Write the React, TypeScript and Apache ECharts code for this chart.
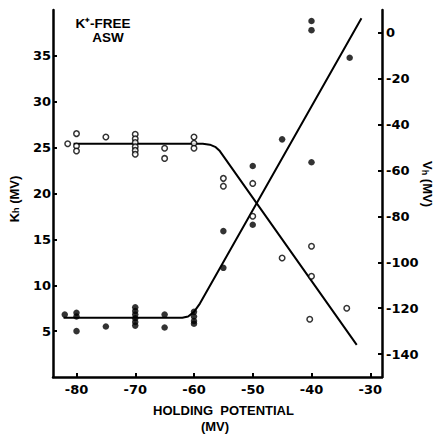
import React, { useEffect, useRef } from "react";
import * as echarts from "echarts";

// Holding potential (mV) ticks
const xTicks = [-80, -70, -60, -50, -40, -30];
const kTicks = [5, 10, 15, 20, 25, 30, 35];
const vTicks = [-140, -120, -100, -80, -60, -40, -20, 0];

// K_h (mV), filled circles, left axis: [holding potential, K_h]
const khPoints: [number, number][] = [
  [-82, 6.8], [-80, 7.0], [-80, 6.6], [-80, 5.0], [-75, 5.5],
  [-70, 7.6], [-70, 7.2], [-70, 6.8], [-70, 6.4], [-70, 6.0], [-70, 5.6],
  [-65, 6.8], [-65, 5.4],
  [-60, 7.1], [-60, 6.6], [-60, 6.1], [-60, 5.8],
  [-55, 15.9], [-55, 11.9], [-50, 23.0], [-50, 16.6], [-45, 25.9],
  [-40, 38.8], [-40, 37.8], [-40, 23.4], [-33.5, 34.8],
];

// V_h (mV), open circles, right axis: [holding potential, V_h]
const vhPoints: [number, number][] = [
  [-81.5, -48.3], [-80, -43.9], [-80, -49.3], [-80, -51.5], [-75, -45.4],
  [-70, -44.2], [-70, -46.1], [-70, -47.8], [-70, -49.6], [-70, -51.2], [-70, -52.9],
  [-65, -50.3], [-65, -54.7],
  [-60, -45.4], [-60, -48.1], [-60, -50.3],
  [-55, -63.4], [-55, -66.8], [-50, -65.6], [-50, -79.9], [-45, -98.1],
  [-40, -93], [-40, -106.1], [-40.3, -124.8], [-34, -120],
];

// fitted curves
const khFit: [number, number][] = [
  [-82.2, 6.45], [-62, 6.45], [-61, 6.6], [-60, 7.1], [-59, 8.0], [-31.5, 39.1],
];
const vhFit: [number, number][] = [
  [-80.5, -48.3], [-58.5, -48.3], [-57.3, -48.7], [-56.3, -49.8], [-55.6, -51.5], [-32.3, -136],
];

const tickFont = "DejaVu Sans";
const nameFont = "Liberation Sans";

export default function App() {
  const ref = useRef<HTMLDivElement>(null);
  useEffect(() => {
    if (!ref.current) return;
    const chart = echarts.init(ref.current, null, { renderer: "svg" });
    const axisLine = { show: true, lineStyle: { color: "#000", width: 2.5 } };
    const axisTick = (vals: number[]) => ({
      show: true,
      inside: true,
      length: 4,
      lineStyle: { color: "#000", width: 2 },
      customValues: vals,
    });
    const axisLabel = (vals: number[], margin: number) => ({
      show: true,
      customValues: vals,
      color: "#000",
      fontFamily: tickFont,
      fontWeight: "bold" as const,
      fontSize: 13,
      margin,
    });
    chart.setOption({
      animation: false,
      backgroundColor: "#fff",
      grid: { left: 53, right: 55, top: 10, bottom: 58, containLabel: false },
      xAxis: {
        type: "value",
        min: -84,
        max: -28,
        axisLine,
        axisTick: axisTick(xTicks),
        axisLabel: axisLabel(xTicks, 6),
        splitLine: { show: false },
      },
      yAxis: [
        {
          type: "value",
          position: "left",
          min: 0,
          max: 40,
          axisLine,
          axisTick: axisTick(kTicks),
          axisLabel: axisLabel(kTicks, 2),
          splitLine: { show: false },
        },
        {
          type: "value",
          position: "right",
          min: -150,
          max: 10,
          axisLine,
          axisTick: axisTick(vTicks),
          axisLabel: axisLabel(vTicks, 4),
          splitLine: { show: false },
        },
      ],
      series: [
        {
          type: "line",
          yAxisIndex: 0,
          data: khFit,
          showSymbol: false,
          symbol: "none",
          lineStyle: { color: "#000", width: 2 },
          z: 1,
        },
        {
          type: "line",
          yAxisIndex: 1,
          data: vhFit,
          showSymbol: false,
          symbol: "none",
          lineStyle: { color: "#000", width: 2 },
          z: 1,
        },
        {
          type: "scatter",
          yAxisIndex: 0,
          data: khPoints,
          symbol: "circle",
          symbolSize: 6.5,
          itemStyle: { color: "#000" },
          z: 3,
        },
        {
          type: "scatter",
          yAxisIndex: 1,
          data: vhPoints,
          symbol: "circle",
          symbolSize: 5.5,
          itemStyle: { color: "#fff", borderColor: "#000", borderWidth: 1.5 },
          z: 3,
        },
      ],
      graphic: [
        {
          type: "text",
          x: 103,
          y: 23,
          style: {
            text: "K⁺-FREE",
            font: `bold 13.5px "${nameFont}"`,
            fill: "#000",
            align: "center",
            verticalAlign: "middle",
          },
        },
        {
          type: "text",
          x: 108,
          y: 37,
          style: {
            text: "ASW",
            font: `bold 13.5px "${nameFont}"`,
            fill: "#000",
            align: "center",
            verticalAlign: "middle",
          },
        },
        {
          type: "text",
          x: 223.5,
          y: 410.5,
          style: {
            text: "HOLDING  POTENTIAL",
            font: `bold 13px "${nameFont}"`,
            fill: "#000",
            align: "center",
            verticalAlign: "middle",
          },
        },
        {
          type: "text",
          x: 215,
          y: 426,
          style: {
            text: "(MV)",
            font: `bold 13px "${nameFont}"`,
            fill: "#000",
            align: "center",
            verticalAlign: "middle",
          },
        },
        {
          type: "text",
          x: 13,
          y: 199,
          rotation: Math.PI / 2,
          style: {
            text: "{a|K}{b|h}{a| (MV)}",
            align: "center",
            verticalAlign: "middle",
            rich: {
              a: { font: `bold 13px "${nameFont}"`, fill: "#000", color: "#000", verticalAlign: "bottom" },
              b: { font: `bold 9px "${nameFont}"`, fill: "#000", color: "#000", verticalAlign: "bottom", padding: [6, 0, 0, 0] },
            },
          },
        },
        {
          type: "text",
          x: 428,
          y: 184,
          rotation: -Math.PI / 2,
          style: {
            text: "{a|V}{b|h}{a| (MV)}",
            align: "center",
            verticalAlign: "middle",
            rich: {
              a: { font: `bold 13px "${nameFont}"`, fill: "#000", color: "#000", verticalAlign: "bottom" },
              b: { font: `bold 9px "${nameFont}"`, fill: "#000", color: "#000", verticalAlign: "bottom", padding: [6, 0, 0, 0] },
            },
          },
        },
      ],
    });
    return () => chart.dispose();
  }, []);
  return (
    <div
      ref={ref}
      style={{ position: "absolute", left: 0, top: 0, width: 437, height: 435, background: "#fff" }}
    />
  );
}
